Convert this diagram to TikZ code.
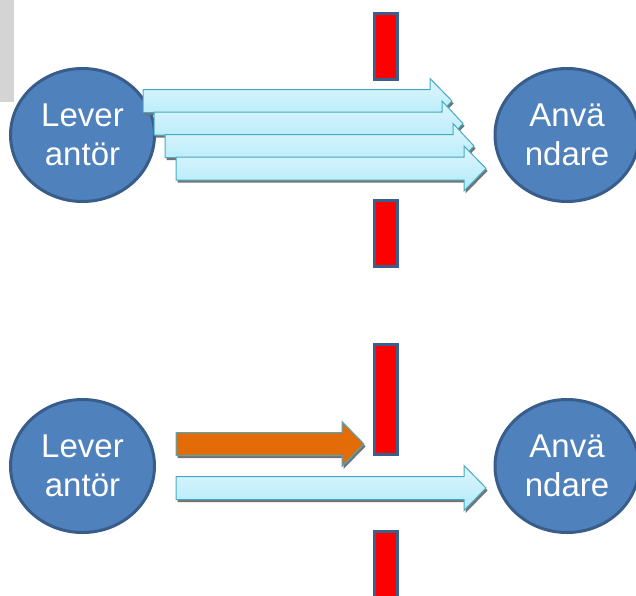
\documentclass[tikz,border=0pt]{standalone}
\usepackage{fontspec}
\setmainfont{Liberation Sans}
\usetikzlibrary{shapes.geometric}
\definecolor{nodefill}{HTML}{4F81BD}
\definecolor{nodeline}{HTML}{385D8A}
\definecolor{arrtop}{HTML}{DDF6FD}
\definecolor{arrbot}{HTML}{B2EAFA}
\definecolor{arrline}{HTML}{46AAC5}
\definecolor{orangefill}{HTML}{E36C09}
\definecolor{wallline}{HTML}{3A5F8B}
\definecolor{sidegray}{HTML}{D4D4D4}
\tikzset{
  party/.style={ellipse, draw=nodeline, fill=nodefill, line width=3pt,
    minimum width=144pt, minimum height=133pt, inner sep=0pt,
    text=white, align=center, font=\fontsize{33}{39}\selectfont},
  wall/.style={draw=wallline, fill=red, line width=3pt},
  cyanarr/.style={draw=arrline, line width=1pt, top color=arrtop, bottom color=arrbot},
  orangearr/.style={draw=arrline, line width=1pt, fill=orangefill},
  arrshadow/.style={fill=black!55}
}
\newcommand\blockarr[5]{%
  \begin{scope}[shift={(1.5,2.5)}]
    \fill[arrshadow] (#2,#3-11.5) -- (#4,#3-11.5) -- (#4,#3-22.5) -- (#5,#3) -- (#4,#3+22.5) -- (#4,#3+11.5) -- (#2,#3+11.5) -- cycle;
  \end{scope}
  \draw[#1] (#2,#3-11.5) -- (#4,#3-11.5) -- (#4,#3-22.5) -- (#5,#3) -- (#4,#3+22.5) -- (#4,#3+11.5) -- (#2,#3+11.5) -- cycle;}
\begin{document}
\begin{tikzpicture}[x=1pt, y=-1pt]
  \useasboundingbox (0,0) rectangle (636,595);
  \clip (0,0) rectangle (636,595);
  \fill[sidegray] (0,0) rectangle (14,102);
  % top scene
  \node[party] (lev1) at (82.5,135) {Lever\\antör};
  \node[party] (anv1) at (567,135) {Anvä\\ndare};
  \draw[wall] (374.5,13.5) rectangle (397.5,79.5);
  \draw[wall] (374.5,200.5) rectangle (397.5,266.5);
  \blockarr{cyanarr}{143}{101}{430}{452}
  \blockarr{cyanarr}{154}{123.5}{442}{463}
  \blockarr{cyanarr}{165}{146}{453}{474}
  \blockarr{cyanarr}{176}{168.5}{464}{486}
  % bottom scene
  \node[party] (lev2) at (82.5,466) {Lever\\antör};
  \node[party] (anv2) at (567,466) {Anvä\\ndare};
  \draw[wall] (374.5,344.5) rectangle (397.5,454.5);
  \draw[wall] (374.5,531.5) rectangle (397.5,610);
  \blockarr{orangearr}{176}{444}{342}{364}
  \blockarr{cyanarr}{176}{488}{464}{486}
\end{tikzpicture}
\end{document}
